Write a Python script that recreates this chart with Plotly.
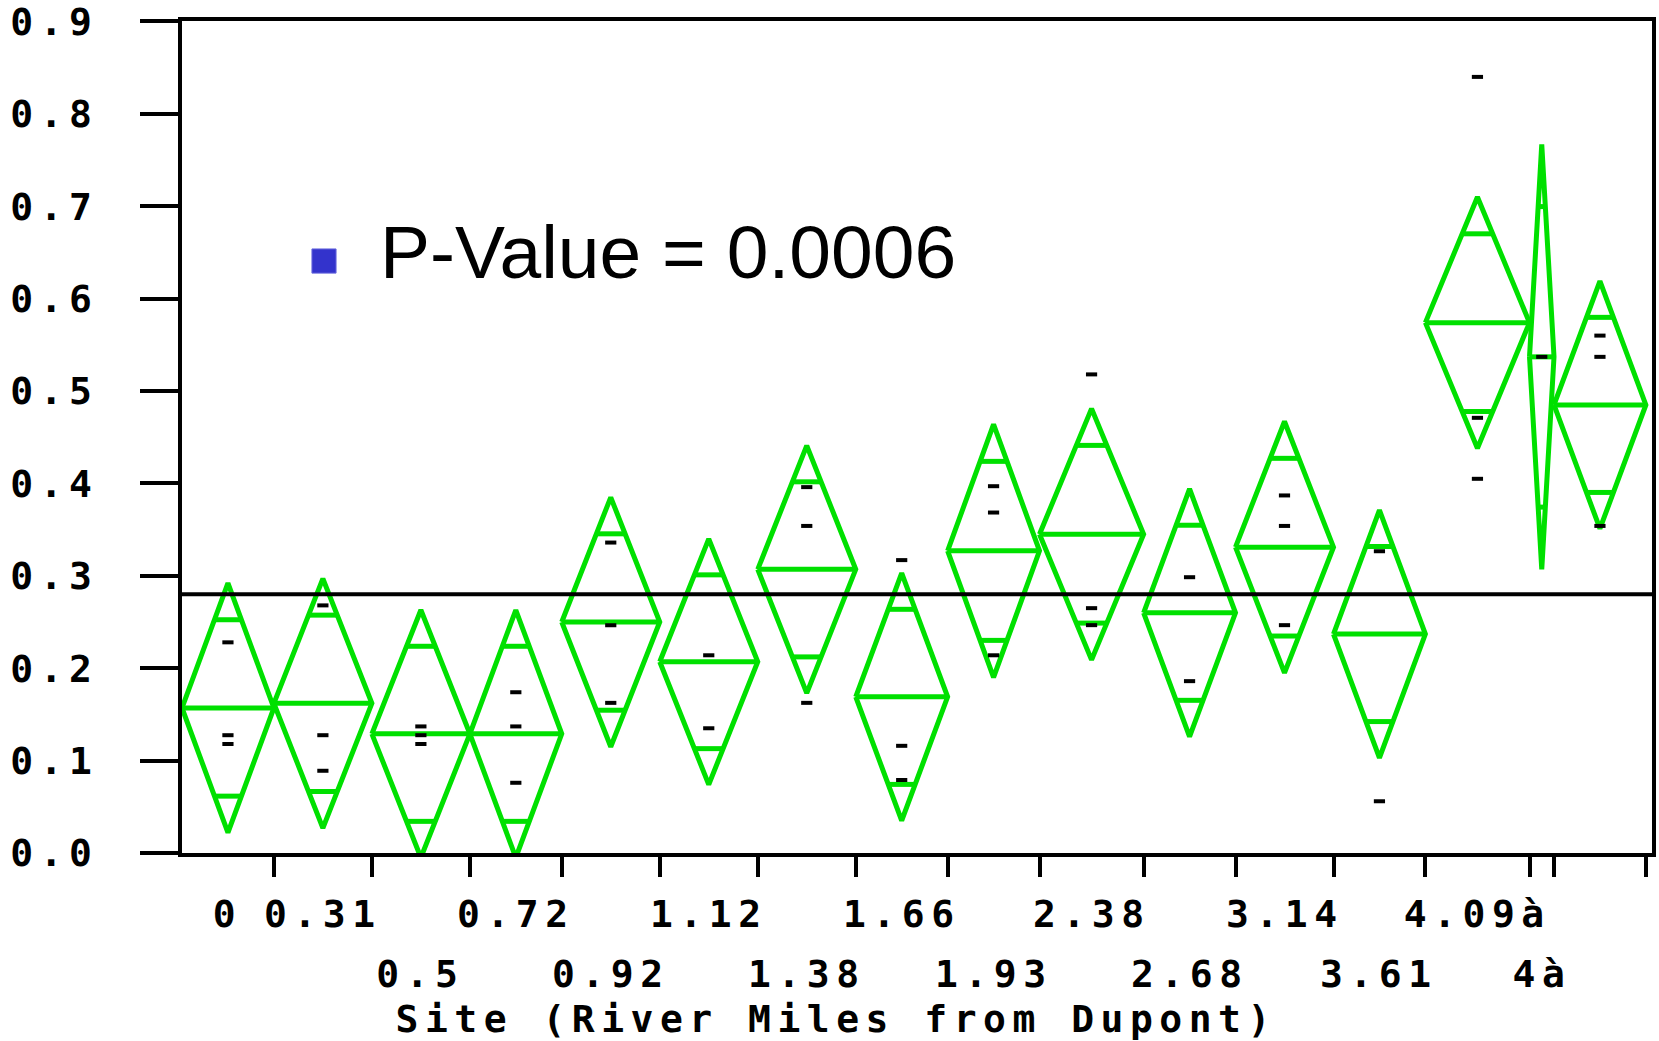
import numpy as np
import plotly.graph_objects as go

# Sampling sites (river miles from Dupont); x-widths follow group sizes
site_labels = ["0", "0.31", "0.5", "0.72", "0.92", "1.12", "1.38", "1.66",
               "1.93", "2.38", "2.68", "3.14", "3.61", "4.09à", "4à", ""]
label_row = [1, 1, 2, 1, 2, 1, 2, 1, 2, 1, 2, 1, 2, 1, 2, 0]
group_n = [15, 16, 16, 15, 16, 16, 16, 15, 15, 17, 15, 16, 15, 17, 4, 15]

# Group means and 95% confidence half-widths (means diamonds)
group_mean = [0.157, 0.162, 0.129, 0.129, 0.250, 0.207, 0.307, 0.169,
              0.327, 0.345, 0.260, 0.331, 0.237, 0.574, 0.537, 0.485]
ci_half = [0.135, 0.135, 0.134, 0.134, 0.135, 0.133, 0.134, 0.134,
           0.137, 0.136, 0.134, 0.136, 0.134, 0.136, 0.230, 0.134]

# Individual observations per site
site_points = [
    [0.228, 0.1275, 0.118],
    [0.268, 0.1275, 0.089],
    [0.137, 0.1275, 0.118],
    [0.174, 0.137, 0.076],
    [0.336, 0.2465, 0.1625],
    [0.214, 0.135],
    [0.396, 0.354, 0.1625],
    [0.317, 0.116, 0.079],
    [0.397, 0.3685, 0.214],
    [0.518, 0.265, 0.2466],
    [0.2985, 0.186],
    [0.387, 0.354, 0.2466],
    [0.3266, 0.056],
    [0.84, 0.471, 0.405],
    [0.537],
    [0.560, 0.537, 0.354],
]

grand_mean = 0.28
p_value_text = "P-Value = 0.0006"
y_ticks = [0.0, 0.1, 0.2, 0.3, 0.4, 0.5, 0.6, 0.7, 0.8, 0.9]
x_title = "Site (River Miles from Dupont)"

GREEN = "#00E000"
MONO = "DejaVu Sans Mono"

bounds = np.concatenate([[0], np.cumsum(group_n)])
total = float(bounds[-1]) + 1
centers = (bounds[:-1] + bounds[1:]) / 2.0

# Build diamond outlines, mean lines and overlap marks
dx, dy = [], []
k = 1 - np.sqrt(2) / 2
for i in range(len(group_n)):
    L, R, C = bounds[i], bounds[i + 1], centers[i]
    m, h = group_mean[i], ci_half[i]
    dx += [L, C, R, C, L, None]
    dy += [m, m + h, m, m - h, m, None]
    dx += [L, R, None]
    dy += [m, m, None]
    off = h / np.sqrt(2)
    hw = (R - L) / 2 * k
    for s in (1, -1):
        dx += [C - hw, C + hw, None]
        dy += [m + s * off, m + s * off, None]

px, py = [], []
for i, pts in enumerate(site_points):
    for v in pts:
        px.append(centers[i])
        py.append(v)

fig = go.Figure()
fig.add_trace(go.Scatter(x=dx, y=dy, mode="lines",
                         line=dict(color=GREEN, width=5),
                         hoverinfo="skip", showlegend=False))
fig.add_trace(go.Scatter(x=[0, total], y=[grand_mean, grand_mean], mode="lines",
                         line=dict(color="black", width=4),
                         hoverinfo="skip", showlegend=False))
fig.add_trace(go.Scatter(x=px, y=py, mode="markers",
                         marker=dict(symbol="line-ew", size=8,
                                     line=dict(color="black", width=4)),
                         showlegend=False))

# Site labels in two staggered rows under the axis
row_y = {1: -0.0739, 2: -0.146}
for i, lab in enumerate(site_labels):
    if label_row[i] == 0:
        continue
    fig.add_annotation(x=centers[i], xref="x", y=row_y[label_row[i]], yref="paper",
                       text=lab, showarrow=False, xanchor="center", yanchor="middle",
                       font=dict(family=MONO, size=38, color="black", weight=700))

fig.add_annotation(x=0.4449, xref="paper", y=-0.1995, yref="paper", text=x_title,
                   showarrow=False, xanchor="center", yanchor="middle",
                   font=dict(family=MONO, size=38, color="black", weight=700))

# P-value note with square bullet
fig.add_shape(type="rect", xref="paper", yref="paper",
              x0=0.0884, x1=0.1048, y0=0.697, y1=0.726,
              fillcolor="#3333CC", line=dict(color="#6666DD", width=1))
fig.add_annotation(x=0.1335, xref="paper", y=0.7219, yref="paper", text=p_value_text,
                   showarrow=False, xanchor="left", yanchor="middle",
                   font=dict(family="Liberation Sans, Arial", size=75, color="black"))

fig.update_xaxes(range=[0, total], tickvals=list(bounds[1:]), showticklabels=False,
                 ticks="outside", ticklen=20, tickwidth=4, tickcolor="black",
                 showline=True, linewidth=4, linecolor="black", mirror=True,
                 showgrid=False, zeroline=False, automargin=False)
fig.update_yaxes(range=[0, 0.9005], tickvals=y_ticks, ticktext=[f"{v:.1f}" for v in y_ticks],
                 ticks="outside", ticklen=38, tickwidth=4, tickcolor="black",
                 ticklabelstandoff=34, ticklabeloverflow="allow",
                 tickfont=dict(family=MONO, size=38, color="black", weight=700),
                 showline=True, linewidth=4, linecolor="black", mirror=True,
                 showgrid=False, zeroline=False, automargin=False)

fig.update_layout(width=1659, height=1041, plot_bgcolor="white", paper_bgcolor="white",
                  margin=dict(l=182, r=7, t=21, b=188), showlegend=False)

spacing_js = """
var gd = document.getElementsByClassName('plotly-graph-div')[0];
function spaceMono(){
  gd.querySelectorAll('text').forEach(function(t){
    if ((t.style.fontFamily || '').indexOf('Mono') >= 0) { t.style.letterSpacing = '6.5px'; }
  });
}
spaceMono();
gd.on('plotly_afterplot', spaceMono);
"""

fig.write_html("out.html", post_script=spacing_js)
